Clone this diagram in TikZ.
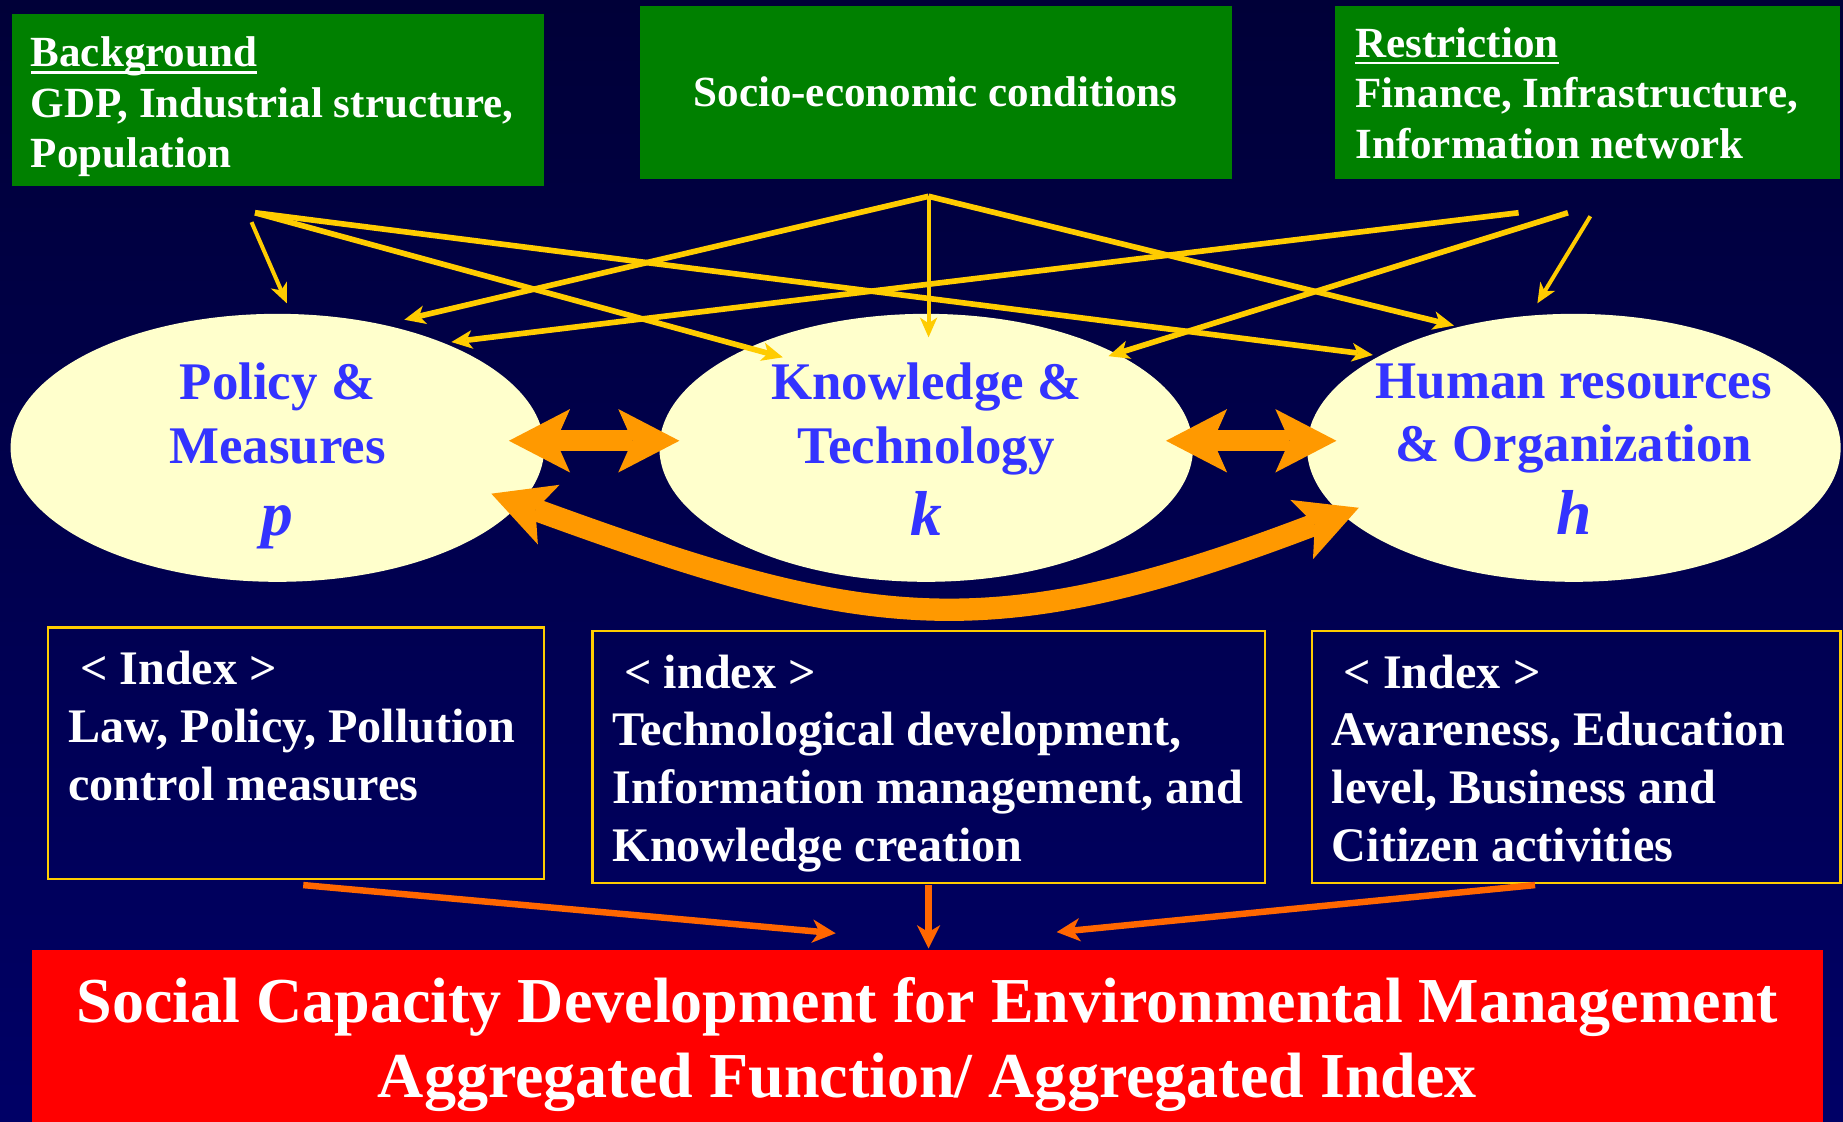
\documentclass[tikz,border=0pt]{standalone}
\usepackage{fontspec}
\setmainfont{Liberation Serif}
\usetikzlibrary{arrows.meta,shapes.geometric}
\definecolor{bgtop}{RGB}{0,0,56}
\definecolor{bgbot}{RGB}{0,0,102}
\definecolor{boxgreen}{RGB}{0,128,0}
\definecolor{ellfill}{RGB}{255,255,204}
\definecolor{ellblue}{RGB}{51,51,255}
\definecolor{arrowyellow}{RGB}{255,204,0}
\definecolor{dblorange}{RGB}{255,153,0}
\definecolor{idxorange}{RGB}{255,102,0}
\definecolor{capred}{RGB}{255,0,0}
\newcommand\myul[1]{\setbox0\hbox{#1}\rlap{\rule[-6pt]{\wd0}{2pt}}\box0}
\begin{document}
\begin{tikzpicture}[x=1pt,y=-1pt,
  greenbox/.style={fill=boxgreen, draw=none, anchor=north west, inner sep=0pt},
  boxtext/.style={text=white, font=\bfseries\fontsize{36.6}{43}\selectfont, align=left, anchor=north west, inner sep=0pt},
  ell/.style={ellipse, fill=ellfill, draw=none, minimum width=454pt, minimum height=228pt, inner sep=0pt},
  elltext/.style={text=ellblue, font=\bfseries\fontsize{45}{54}\selectfont, align=center, anchor=north, inner sep=0pt},
  idxbox/.style={draw=arrowyellow, line width=2pt, anchor=north west, inner sep=0pt},
  idxtext/.style={text=white, font=\bfseries\fontsize{41}{49}\selectfont, align=left, anchor=north west, inner sep=0pt},
  captext/.style={text=white, font=\bfseries\fontsize{54.5}{64}\selectfont, align=center, anchor=north, inner sep=0pt},
  ylong/.style={draw=arrowyellow, line width=4.8pt, -{Stealth[length=18pt,width=16pt,inset=5pt,line width=0pt]}},
  yshort/.style={draw=arrowyellow, line width=3.4pt, -{Stealth[length=17pt,width=15pt,inset=5pt,line width=0pt]}},
  dbl/.style={draw=dblorange, line width=18pt, {Stealth[length=52pt,width=54pt,inset=12pt,line width=0pt]}-{Stealth[length=52pt,width=54pt,inset=12pt,line width=0pt]}},
  idxarrow/.style={draw=idxorange, line width=5.5pt, -{Stealth[length=20pt,width=20pt,inset=6pt,line width=0pt]}}
]
\useasboundingbox (0,0) rectangle (1568,954);
\shade[top color=bgtop,bottom color=bgbot] (0,0) rectangle (1568,954);

% green boxes
\node[greenbox, minimum width=453pt, minimum height=146pt] (bg) at (10,12) {};
\node[greenbox, minimum width=504pt, minimum height=147pt] (se) at (544,5) {};
\node[greenbox, minimum width=429pt, minimum height=147pt] (rs) at (1136,5) {};
\node[boxtext] (bgt) at (26,31) {\myul{Background}\\GDP, Industrial structure,\\Population};
\node[boxtext, anchor=base] (set) at (796,91) {Socio-economic conditions};
\node[boxtext] (rst) at (1153,23) {\myul{Restriction}\\Finance, Infrastructure,\\Information network};

% ellipses
\node[ell] (pm) at (236,381) {};
\node[ell] (kt) at (788,381) {};
\node[ell] (ho) at (1339,381) {};
\node[elltext] (pmt) at (236,308.5) {Policy \&\\Measures\\[8pt]{\fontsize{54}{58}\selectfont\itshape p}};
\node[elltext] (ktt) at (788,308.5) {Knowledge \&\\Technology\\[8pt]{\fontsize{54}{58}\selectfont\itshape k}};
\node[elltext] (hot) at (1339,309) {Human resources\\\& Organization\\[8pt]{\fontsize{54}{58}\selectfont\itshape h}};

% yellow arrows
\coordinate (bgA) at (217,181);
\coordinate (bgB) at (214,189);
\coordinate (seS) at (790,167);
\coordinate (rsA) at (1292,181);
\coordinate (rsB) at (1334,181);
\coordinate (rsC) at (1353,184);
\coordinate (pmA) at (244,258);
\coordinate (pmB) at (344,272);
\coordinate (pmC) at (384,291);
\coordinate (ktA) at (666,304);
\coordinate (ktB) at (790,287);
\coordinate (ktC) at (943,303);
\coordinate (hoA) at (1168,302);
\coordinate (hoB) at (1237,277);
\coordinate (hoC) at (1308,258);
\draw[yshort] (bgB) -- (pmA);
\draw[ylong] (bgA) -- (ktA);
\draw[ylong] (bgA) -- (hoA);
\draw[ylong] (seS) -- (pmB);
\draw[yshort] (seS) -- (ktB);
\draw[ylong] (seS) -- (hoB);
\draw[ylong] (rsA) -- (pmC);
\draw[ylong] (rsB) -- (ktC);
\draw[yshort] (rsC) -- (hoC);

% orange double arrows
\coordinate (d1a) at (433,375);
\coordinate (d1b) at (578,375);
\coordinate (d2a) at (992,375);
\coordinate (d2b) at (1137,375);
\coordinate (c1a) at (418,420);
\coordinate (c1b) at (1156,432);
\draw[dbl] (d1a) -- (d1b);
\draw[dbl] (d2a) -- (d2b);
\draw[dbl, line width=19pt] (c1a) .. controls (736,536) and (839,553) .. (c1b);

% index boxes
\node[idxbox, minimum width=422pt, minimum height=214pt] (ip) at (40,533) {};
\node[idxbox, minimum width=572pt, minimum height=214pt] (ik) at (503,536) {};
\node[idxbox, minimum width=450pt, minimum height=214pt] (ih) at (1115,536) {};
\node[idxtext] (ipt) at (58,554) {\hspace*{10pt}< Index >\\Law, Policy, Pollution\\control measures};
\node[idxtext] (ikt) at (521,557) {\hspace*{10pt}< index >\\Technological development,\\Information management, and\\Knowledge creation};
\node[idxtext] (iht) at (1133,557) {\hspace*{10pt}< Index >\\Awareness, Education\\level, Business and\\Citizen activities};

% red box
\node[anchor=north west, fill=capred, draw=none, minimum width=1524pt, minimum height=146pt, inner sep=0pt] (cap) at (27,808) {};
\node[captext] (capt) at (789,831) {Social Capacity Development for Environmental Management\\Aggregated Function/ Aggregated Index};

% index arrows
\coordinate (ipS) at (258,753);
\coordinate (ikS) at (790,753);
\coordinate (ihS) at (1306,753);
\coordinate (capA) at (711,794);
\coordinate (capB) at (790,807);
\coordinate (capC) at (899,793);
\draw[idxarrow] (ipS) -- (capA);
\draw[idxarrow] (ikS) -- (capB);
\draw[idxarrow] (ihS) -- (capC);
\end{tikzpicture}
\end{document}
